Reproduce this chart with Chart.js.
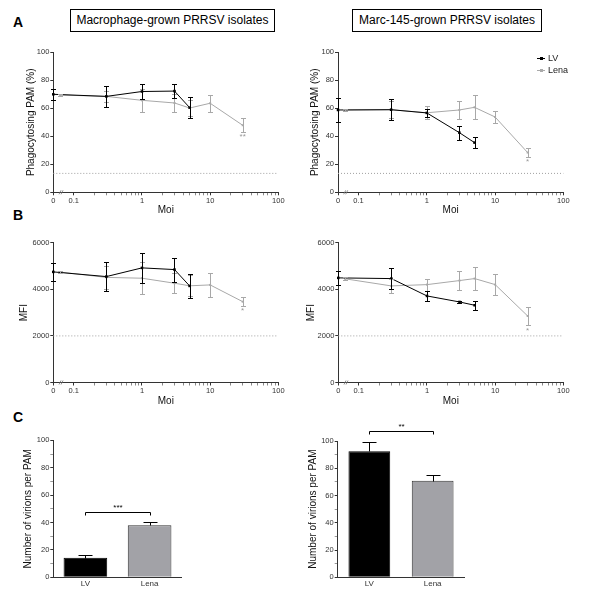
<!DOCTYPE html>
<html><head><meta charset="utf-8">
<script src="https://cdn.jsdelivr.net/npm/chart.js@4.4.1/dist/chart.umd.min.js"></script>
<style>
html,body{margin:0;padding:0;background:#fff}
body{width:600px;height:607px;position:relative;overflow:hidden;font-family:"Liberation Sans",Arial,sans-serif;color:#000}
canvas{position:absolute}
.plab{position:absolute;font-weight:bold;font-size:14px;line-height:16px}
.tbox{position:absolute;border:1px solid #000;font-size:12px;text-align:center;line-height:21px;height:21px;box-sizing:content-box;white-space:nowrap}
.leg{position:absolute;font-size:9px;line-height:11px;white-space:nowrap;color:#222}
.leg .sym{position:absolute;top:5px;width:8px;height:1px}
.leg .dot{position:absolute;top:-1px;left:3px;width:3px;height:3px}
</style></head><body>
<div class="plab" style="left:13px;top:14px">A</div>
<div class="plab" style="left:13px;top:207px">B</div>
<div class="plab" style="left:13px;top:409px">C</div>
<div class="tbox" style="left:70px;top:9px;width:203px">Macrophage-grown PRRSV isolates</div>
<div class="tbox" style="left:352px;top:9px;width:188px">Marc-145-grown PRRSV isolates</div>

<canvas id="aL"></canvas><canvas id="aR"></canvas>
<canvas id="bL"></canvas><canvas id="bR"></canvas>
<canvas id="cL"></canvas><canvas id="cR"></canvas>

<div class="leg" style="left:537px;top:53px"><span class="sym" style="left:0;background:#000"><span class="dot" style="background:#000"></span></span><span style="margin-left:11px">LV</span></div>
<div class="leg" style="left:537px;top:65px"><span class="sym" style="left:0;background:#aaa"><span class="dot" style="background:#aaa"></span></span><span style="margin-left:11px">Lena</span></div>

<script>
// ---------------- DATA ----------------
const moiLV   = [0.05, 0.3, 1, 3, 5];
const moiLena = [0.063, 0.3, 1, 3, 5, 10, 30];

const moiTickValues = [0.05, 0.1, 1, 10, 100];
const moiTickText   = ['0', '0.1', '1', '10', '100'];
const moiMinorTicks = [0.2,0.3,0.4,0.5,0.6,0.7,0.8,0.9,2,3,4,5,6,7,8,9,20,30,40,50,60,70,80,90];
const moiBreak = 0.066;

// A: phagocytosing PAM (%)
const phagoMacLV      = [70, 68.5, 72, 72.3, 60.5];
const phagoMacLVErr   = [3.8, 7.5, 5.3, 5, 7.4];
const phagoMacLena    = [69.5, 68.5, 65.7, 63.8, 60.2, 63.6, 47.9];
const phagoMacLenaErr = [1, 4, 8, 6.5, 6, 6.2, 5];
const phagoMarcLV      = [58.8, 59, 56.7, 42.6, 35.5];
const phagoMarcLVErr   = [8.5, 7.5, 3, 5, 4.2];
const phagoMarcLena    = [58.8, 59, 56.8, 58.8, 60.7, 53.8, 28.4];
const phagoMarcLenaErr = [1, 6, 4.5, 6.7, 8.5, 4, 3.2];
const phagoCutoff = 13.5;
const phagoTicks = [0, 20, 40, 60, 80, 100];

// B: MFI
const mfiMacLV      = [4747, 4546, 4919, 4847, 4145];
const mfiMacLVErr   = [375, 640, 630, 515, 520];
const mfiMacLena    = [4740, 4510, 4476, 4261, 4150, 4188, 3470];
const mfiMacLenaErr = [60, 500, 675, 430, 450, 530, 180];
const mfiMarcLV      = [4490, 4460, 3715, 3457, 3315];
const mfiMarcLVErr   = [300, 460, 215, 60, 200];
const mfiMarcLena    = [4450, 4145, 4201, 4375, 4460, 4202, 2855];
const mfiMarcLenaErr = [60, 300, 260, 400, 480, 445, 400];
const mfiCutoff = 2000;
const mfiTicks = [0, 2000, 4000, 6000];

// C: number of virions per PAM
const strains = ['LV', 'Lena'];
const virionsMac     = [14.3, 38];
const virionsMacErr  = [1.7, 2.6];
const virionsMarc    = [92.5, 70.8];
const virionsMarcErr = [6.4, 3.9];
const virionTicks = [0,10,20,30,40,50,60,70,80,90,100];
const virionTickLabels = [0, 20, 40, 60, 80, 100];

// significance marks
const sigMacPhago  = '**';
const sigMarcPhago = '*';
const sigMacMfi    = '*';
const sigMarcMfi   = '*';
const sigMacBar  = {y: 47.9, text: '***'};
const sigMarcBar = {y: 107, text: '**'};

// ---------------- STYLE ----------------
const FONT = "'Liberation Sans', Arial, sans-serif";
Chart.defaults.font.family = FONT;
Chart.defaults.color = '#333';
Chart.defaults.animation = false;
const BLACK = '#000';
const GREY = '#a8a8a8';

function place(id, L, T, W, H) {
  const c = document.getElementById(id);
  c.width = W; c.height = H;
  c.style.left = L + 'px'; c.style.top = T + 'px';
  c.style.width = W + 'px'; c.style.height = H + 'px';
  return c;
}

const errorBarPlugin = {
  id: 'errorBars',
  afterDatasetsDraw(chart) {
    const ctx = chart.ctx;
    const ys = chart.scales.y;
    for (let d = chart.data.datasets.length - 1; d >= 0; d--) {
      const ds = chart.data.datasets[d];
      if (!ds.errors) continue;
      const meta = chart.getDatasetMeta(d);
      ctx.save();
      ctx.strokeStyle = ds.errorColor || ds.borderColor;
      ctx.lineWidth = 1;
      meta.data.forEach((el, i) => {
        const raw = ds.data[i];
        const v = (typeof raw === 'object') ? raw.y : raw;
        const e = ds.errors[i];
        const x = Math.round(el.x) + 0.5;
        const yTop = Math.round(ys.getPixelForValue(v + e)) + 0.5;
        const yBot = Math.round(ys.getPixelForValue(ds.errorUpOnly ? v : v - e)) + 0.5;
        const cw = ds.capHalf || 2.5;
        ctx.beginPath();
        ctx.moveTo(x, yTop); ctx.lineTo(x, yBot);
        ctx.moveTo(x - cw, yTop); ctx.lineTo(x + cw, yTop);
        if (!ds.errorUpOnly) { ctx.moveTo(x - cw, yBot); ctx.lineTo(x + cw, yBot); }
        ctx.stroke();
      });
      ctx.restore();
    }
  }
};

function annotPlugin(opt) {
  return {
    id: 'annot',
    afterDraw(chart) {
      const ctx = chart.ctx;
      const xs = chart.scales.x, ys = chart.scales.y;
      ctx.save();
      if (opt.sig) {
        const ds = chart.data.datasets[opt.sig.ds];
        const i = opt.sig.i;
        const pt = ds.data[i];
        const px = xs.getPixelForValue(pt.x);
        const py = ys.getPixelForValue(pt.y - ds.errors[i]);
        ctx.fillStyle = '#999';
        ctx.font = '8px ' + FONT;
        ctx.textAlign = 'center'; ctx.textBaseline = 'top';
        ctx.fillText(opt.sig.text, px, py + 1);
      }
      if (opt.axisBreak) {
        const bx = xs.getPixelForValue(opt.axisBreak);
        const by = chart.chartArea.bottom;
        ctx.strokeStyle = '#777'; ctx.lineWidth = 0.8;
        ctx.beginPath();
        ctx.moveTo(bx - 2.5, by + 2); ctx.lineTo(bx - 0.5, by - 2);
        ctx.moveTo(bx - 0.5, by + 2); ctx.lineTo(bx + 1.5, by - 2);
        ctx.stroke();
      }
      if (opt.bracket) {
        const x0 = Math.round(xs.getPixelForValue(0)) + 0.5;
        const x1 = Math.round(xs.getPixelForValue(1)) + 0.5;
        const y = Math.round(ys.getPixelForValue(opt.bracket.y)) + 0.5;
        ctx.strokeStyle = '#000'; ctx.lineWidth = 1;
        ctx.beginPath();
        ctx.moveTo(x0, y + 3); ctx.lineTo(x0, y); ctx.lineTo(x1, y); ctx.lineTo(x1, y + 3);
        ctx.stroke();
        ctx.fillStyle = '#000';
        ctx.font = '8px ' + FONT;
        ctx.textAlign = 'center'; ctx.textBaseline = 'bottom';
        ctx.fillText(opt.bracket.text, (x0 + x1) / 2, y - 1);
      }
      ctx.restore();
    }
  };
}

function pts(xs, ys) { return xs.map((x, i) => ({x: x, y: ys[i]})); }

function lineChart(id, L, T, W, H, cfg) {
  const c = place(id, L, T, W, H);
  const xh = (T + H) - cfg.bottom;
  return new Chart(c, {
    type: 'line',
    data: {
      datasets: [
        {label: 'LV', data: pts(moiLV, cfg.lv), errors: cfg.lvErr,
         borderColor: BLACK, backgroundColor: BLACK, borderWidth: 1,
         pointStyle: 'rect', pointRadius: 1.8, pointBorderWidth: 0, clip: false, tension: 0},
        {label: 'Lena', data: pts(moiLena, cfg.lena), errors: cfg.lenaErr,
         borderColor: GREY, backgroundColor: GREY, borderWidth: 1,
         pointStyle: 'rect', pointRadius: 1.4, pointBorderWidth: 0, clip: false, tension: 0},
        {label: 'cutoff', data: [{x: moiTickValues[0], y: cfg.cutoff}, {x: moiTickValues[moiTickValues.length - 1], y: cfg.cutoff}],
         borderColor: '#a0a0a0', borderWidth: 1, borderDash: [1, 2], pointRadius: 0, clip: false}
      ]
    },
    options: {
      responsive: false, animation: false,
      layout: {padding: {left: 0, right: cfg.padR, top: cfg.top - T, bottom: 0}},
      plugins: {legend: {display: false}, tooltip: {enabled: false}},
      scales: {
        x: {
          type: 'logarithmic', position: 'bottom',
          min: moiTickValues[0], max: moiTickValues[moiTickValues.length - 1],
          afterBuildTicks: s => { s.ticks = moiTickValues.concat(moiMinorTicks).sort((a, b) => a - b).map(v => ({value: v})); },
          ticks: {
            autoSkip: false, maxRotation: 0, minRotation: 0, padding: 1,
            font: {size: 7.5}, color: '#333',
            callback: v => { const k = moiTickValues.indexOf(v); return k >= 0 ? moiTickText[k] : ''; }
          },
          grid: {drawOnChartArea: false, drawTicks: true, tickLength: 3,
                 color: ctx => (ctx.tick && moiTickValues.indexOf(ctx.tick.value) >= 0) ? '#333' : '#888'},
          border: {display: true, color: '#333', width: 1},
          title: {display: true, text: 'Moi', font: {size: 10}, color: '#111', padding: {top: 0, bottom: cfg.moiPad}},
          afterFit: s => { s.height = xh; }
        },
        y: {
          type: 'linear', min: cfg.ticks[0], max: cfg.ticks[cfg.ticks.length - 1],
          afterBuildTicks: s => { s.ticks = cfg.ticks.map(v => ({value: v})); },
          ticks: {font: {size: 7.5}, color: '#333', padding: 1, callback: v => String(v)},
          grid: {drawOnChartArea: false, drawTicks: true, tickLength: 3, color: '#333'},
          border: {display: true, color: '#333', width: 1},
          title: {display: true, text: cfg.ytitle, font: {size: 10}, color: '#111', padding: {top: cfg.yTitleX - 6, bottom: 0}},
          afterFit: s => { s.width = cfg.left - L; }
        }
      }
    },
    plugins: [errorBarPlugin, annotPlugin({sig: {ds: 1, i: moiLena.length - 1, text: cfg.sig}, axisBreak: moiBreak})]
  });
}

function barChart(id, L, T, W, H, cfg) {
  const c = place(id, L, T, W, H);
  const xh = (T + H) - cfg.bottom;
  return new Chart(c, {
    type: 'bar',
    data: {
      labels: strains,
      datasets: [{
        data: cfg.values, errors: cfg.errs, errorUpOnly: true, capHalf: 7, errorColor: '#000',
        backgroundColor: ['#000', '#a2a2a7'], borderColor: ['#000', '#333'], borderWidth: 1,
        barPercentage: cfg.barPct, categoryPercentage: 1
      }]
    },
    options: {
      responsive: false, animation: false,
      layout: {padding: {left: 0, right: cfg.padR, top: cfg.top - T, bottom: 0}},
      plugins: {legend: {display: false}, tooltip: {enabled: false}},
      scales: {
        x: {
          type: 'category',
          ticks: {font: {size: 8}, color: '#333', padding: 2, maxRotation: 0},
          grid: {display: false, drawTicks: false, tickLength: 0},
          border: {display: true, color: '#333', width: 1},
          afterFit: s => { s.height = xh; }
        },
        y: {
          type: 'linear', min: 0, max: 100,
          afterBuildTicks: s => { s.ticks = virionTicks.map(v => ({value: v})); },
          ticks: {font: {size: 7.5}, color: '#333', padding: 1,
                  callback: v => virionTickLabels.indexOf(v) >= 0 ? String(v) : ''},
          grid: {drawOnChartArea: false, drawTicks: true, tickLength: 3,
                 color: ctx => (ctx.tick && virionTickLabels.indexOf(ctx.tick.value) >= 0) ? '#333' : '#999'},
          border: {display: true, color: '#333', width: 1},
          title: {display: true, text: 'Number of virions per PAM', font: {size: 10}, color: '#111',
                  padding: {top: cfg.yTitleX - 6, bottom: 0}},
          afterFit: s => { s.width = cfg.left - L; }
        }
      }
    },
    plugins: [errorBarPlugin, annotPlugin({bracket: cfg.bracket})]
  });
}

// ---------------- CHARTS ----------------
lineChart('aL', 0, 40, 300, 180, {
  lv: phagoMacLV, lvErr: phagoMacLVErr, lena: phagoMacLena, lenaErr: phagoMacLenaErr,
  cutoff: phagoCutoff, ticks: phagoTicks, ytitle: 'Phagocytosing PAM (%)', sig: sigMacPhago,
  left: 53.3, padR: 21.7, top: 52.3, bottom: 192.3, yTitleX: 31.5, moiPad: 3.5
});
lineChart('aR', 300, 40, 300, 180, {
  lv: phagoMarcLV, lvErr: phagoMarcLVErr, lena: phagoMarcLena, lenaErr: phagoMarcLenaErr,
  cutoff: phagoCutoff, ticks: phagoTicks, ytitle: 'Phagocytosing PAM (%)', sig: sigMarcPhago,
  left: 338, padR: 36.7, top: 52.3, bottom: 192.3, yTitleX: 15, moiPad: 3.5
});
lineChart('bL', 0, 230, 300, 180, {
  lv: mfiMacLV, lvErr: mfiMacLVErr, lena: mfiMacLena, lenaErr: mfiMacLenaErr,
  cutoff: mfiCutoff, ticks: mfiTicks, ytitle: 'MFI', sig: sigMacMfi,
  left: 53.3, padR: 21.7, top: 242.7, bottom: 382.5, yTitleX: 24.5, moiPad: 2.3
});
lineChart('bR', 300, 230, 300, 180, {
  lv: mfiMarcLV, lvErr: mfiMarcLVErr, lena: mfiMarcLena, lenaErr: mfiMarcLenaErr,
  cutoff: mfiCutoff, ticks: mfiTicks, ytitle: 'MFI', sig: sigMarcMfi,
  left: 338.3, padR: 36.7, top: 242.7, bottom: 382.5, yTitleX: 11.7, moiPad: 2.3
});
barChart('cL', 0, 425, 300, 180, {
  values: virionsMac, errs: virionsMacErr, bracket: sigMacBar, barPct: 0.68,
  left: 53.3, padR: 118.3, top: 440.3, bottom: 577.3, yTitleX: 28.5
});
barChart('cR', 300, 415, 300, 190, {
  values: virionsMarc, errs: virionsMarcErr, bracket: sigMarcBar, barPct: 0.66,
  left: 337.7, padR: 135.7, top: 441, bottom: 577.3, yTitleX: 13
});
</script>
</body></html>
